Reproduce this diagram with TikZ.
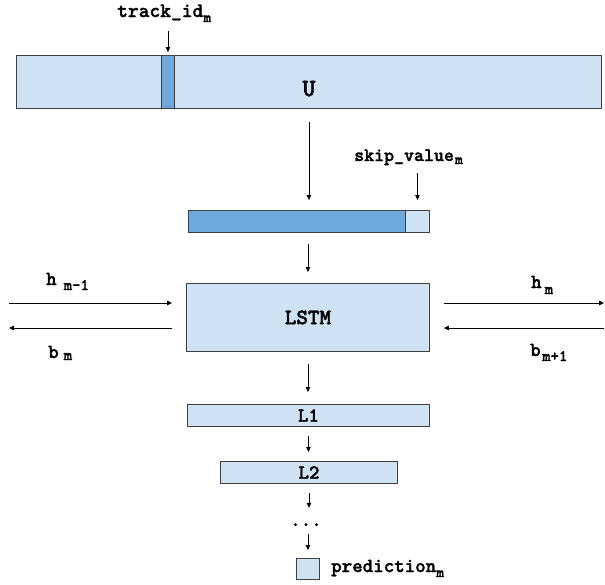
\documentclass[tikz,border=0pt]{standalone}
\usepackage{fontspec}
\newfontfamily\courb{lmmonolt10-bold.otf}[FakeBold=1.6]
\usetikzlibrary{arrows.meta}
\definecolor{lightb}{HTML}{CFE2F3}
\definecolor{darkb}{HTML}{6FA8DC}
\definecolor{edgec}{HTML}{404040}
\newcommand\lowsub[3]{\raisebox{-#1pt}{\fontsize{#2}{#2}\selectfont #3}}
\newcommand\monof[1]{\fontsize{#1}{#1}\selectfont\courb}
\begin{document}
\begin{tikzpicture}[x=1pt,y=-1pt,
  lbox/.style={draw=edgec, fill=lightb, line width=0.9pt, inner sep=0pt, anchor=north west},
  dbox/.style={lbox, fill=darkb},
  txt/.style={inner sep=0pt},
  arr/.style={-{Triangle[length=5pt,width=4.5pt]}, line width=0.8pt, black},
]
\useasboundingbox (0,0) rectangle (605,584);
% embedding table U
\node[lbox, minimum width=585pt, minimum height=53pt] (U) at (16,55) {};
\node[dbox, minimum width=13pt, minimum height=53pt] (strip) at (161,55) {};
\node[txt, font=\monof{25}, text depth=0pt] (Ut) at (309,88.5) {U};
\node[txt, font=\monof{20.5}, anchor=base west, text depth=5pt] (trackid) at (117,17) {track\_id\lowsub{5}{15}{m}};
\draw[arr, shorten <=9pt, shorten >=3pt] (trackid.south -| strip.north) -- (strip.north);
% input vector
\node[dbox, minimum width=217pt, minimum height=22pt] (bard) at (188,210) {};
\node[lbox, minimum width=24pt, minimum height=22pt] (barl) at (405,210) {};
\draw[arr, shorten <=13pt, shorten >=10pt] (U.south) -- (U.south |- bard.north);
\node[txt, font=\monof{19}, anchor=base west, text depth=3pt] (skipv) at (354,161) {skip\_value\hspace{1pt}\lowsub{3}{15}{m}};
\draw[arr, shorten <=9pt, shorten >=10pt] (skipv.south -| barl.north) -- (barl.north);
% LSTM
\node[lbox, minimum width=243pt, minimum height=68pt, font=\monof{22}] (lstm) at (186,283) {LSTM};
\draw[arr, shorten <=11pt, shorten >=11pt] (lstm.north |- bard.south) -- (lstm.north);
\coordinate (hinS) at (9,303);
\coordinate (boutE) at (9,328);
\coordinate (houtE) at (604,303);
\coordinate (binS) at (604,328);
\draw[arr, shorten >=14pt] (hinS) -- (hinS -| lstm.west);
\draw[arr, shorten <=14pt] (boutE -| lstm.west) -- (boutE);
\draw[arr, shorten <=14pt] (houtE -| lstm.east) -- (houtE);
\draw[arr, shorten >=14pt] (binS) -- (binS -| lstm.east);
\node[txt, font=\monof{20}, anchor=base west] (hin) at (46,285) {h\hspace{7pt}\lowsub{5}{16}{m-1}};
\node[txt, font=\monof{20}, anchor=base west] (bout) at (48,358) {b\hspace{5pt}\lowsub{2}{16}{m}};
\node[txt, font=\monof{20}, anchor=base west] (hout) at (531,288) {h\hspace{3pt}\lowsub{6}{16}{m}};
\node[txt, font=\monof{20}, anchor=base west] (bin) at (530,356) {b\hspace{1.5pt}\lowsub{5}{16}{m+1}};
% dense layers
\node[lbox, minimum width=242pt, minimum height=22pt, font=\monof{20}] (l1) at (187,404) {L1};
\draw[arr, shorten <=12pt, shorten >=12pt] (lstm.south) -- (lstm.south |- l1.north);
\node[lbox, minimum width=177pt, minimum height=22pt, font=\monof{20}] (l2) at (220,461) {L2};
\draw[arr, shorten <=9pt, shorten >=9pt] (l1.south) -- (l1.south |- l2.north);
\node[txt, font=\monof{20}, anchor=base, text height=4pt, text depth=0pt] (dots) at (306,526) {...};
\draw[arr, shorten <=9pt, shorten >=14pt] (l2.south) -- (l2.south |- dots.north);
\node[lbox, minimum width=23pt, minimum height=21pt] (pred) at (296,558) {};
\draw[arr, shorten <=8pt, shorten >=8pt] (dots.south -| pred.north) -- (pred.north);
\node[txt, font=\monof{20}, anchor=base west] (predt) at (331,572) {prediction\lowsub{5}{15}{m}};
\end{tikzpicture}
\end{document}
